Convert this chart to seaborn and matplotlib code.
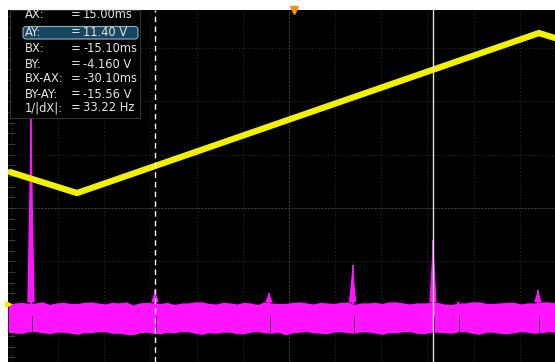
import matplotlib
matplotlib.use("Agg")
import matplotlib.pyplot as plt
import seaborn as sns
from matplotlib.ticker import MultipleLocator, NullFormatter
from matplotlib.patches import FancyBboxPatch, Polygon

# time in ms, amplitude in screen divisions
trace_t = [-30.8, -23.55, 26.47, 28.2]
trace_v = [0.675, 0.281, 3.283, 3.19]

noise_t = [-31.0, -30.2, -29.5, -28.7, -28.0, -27.3, -26.5, -25.8, -25.0, -24.2,
           -23.5, -22.8, -22.0, -21.3, -20.5, -19.8, -19.0, -18.2, -17.5, -16.8,
           -16.0, -15.3, -14.5, -13.8, -13.0, -12.2, -11.5, -10.8, -10.0, -9.3,
           -8.5, -7.8, -7.0, -6.2, -5.5, -4.8, -4.0, -3.3, -2.5, -1.8,
           -1.0, -0.2, 0.5, 1.3, 2.0, 2.8, 3.5, 4.2, 5.0, 5.8,
           6.5, 7.2, 8.0, 8.8, 9.5, 10.2, 11.0, 11.8, 12.5, 13.2,
           14.0, 14.8, 15.5, 16.2, 17.0, 17.8, 18.5, 19.2, 20.0, 20.8,
           21.5, 22.2, 23.0, 23.8, 24.5, 25.2, 26.0, 26.8, 27.5, 28.2]
noise_hi = [-1.80, -1.78, -1.77, -1.79, -1.78, -1.76, -1.81, -1.78, -1.77, -1.79,
            -1.79, -1.77, -1.76, -1.78, -1.80, -1.77, -1.78, -1.76, -1.82, -1.78,
            -1.77, -1.78, -1.79, -1.77, -1.81, -1.78, -1.78, -1.76, -1.76, -1.79,
            -1.80, -1.77, -1.78, -1.80, -1.77, -1.78, -1.81, -1.76, -1.78, -1.79,
            -1.79, -1.77, -1.76, -1.78, -1.80, -1.77, -1.78, -1.79, -1.77, -1.76,
            -1.81, -1.78, -1.78, -1.77, -1.79, -1.76, -1.76, -1.78, -1.80, -1.78,
            -1.78, -1.77, -1.77, -1.80, -1.81, -1.78, -1.78, -1.76, -1.76, -1.79,
            -1.79, -1.78, -1.77, -1.77, -1.80, -1.78, -1.78, -1.76, -1.76, -1.78]
noise_lo = [-2.33, -2.35, -2.35, -2.32, -2.32, -2.34, -2.36, -2.33, -2.33, -2.35,
            -2.37, -2.34, -2.34, -2.32, -2.32, -2.35, -2.35, -2.37, -2.38, -2.34,
            -2.33, -2.35, -2.36, -2.33, -2.34, -2.32, -2.32, -2.35, -2.37, -2.34,
            -2.35, -2.33, -2.33, -2.36, -2.36, -2.33, -2.32, -2.34, -2.35, -2.33,
            -2.38, -2.34, -2.33, -2.32, -2.34, -2.35, -2.36, -2.33, -2.32, -2.34,
            -2.35, -2.32, -2.33, -2.35, -2.37, -2.34, -2.34, -2.32, -2.32, -2.35,
            -2.36, -2.33, -2.33, -2.34, -2.35, -2.32, -2.32, -2.35, -2.37, -2.33,
            -2.33, -2.35, -2.36, -2.34, -2.32, -2.33, -2.35, -2.34, -2.32, -2.33]

spike_t = [-28.53, -15.1, -2.76, 6.3, 15.0, 17.7, 26.36]
spike_top = [2.03, -1.54, -1.59, -1.07, -0.6, -1.76, -1.54]

labels = ['AX:', 'AY:', 'BX:', 'BY:', 'BX-AX:', 'BY-AY:', '1/|dX|:']
values = ['15.00ms', '11.40 V', '-15.10ms', '-4.160 V', '-30.10ms', '-15.56 V', '33.22 Hz']
ax_cursor = 15.00
bx_cursor = -15.10

sns.set_theme(style='dark')
plt.rcParams['font.family'] = ['Liberation Sans Narrow', 'DejaVu Sans']

fig = plt.figure(figsize=(5.55, 3.62), dpi=100, facecolor='white')
ax = fig.add_axes([8/555, 0, 547/555, 352/362])
ax.set_facecolor('black')
ax.set_xlim(-31.02, 28.21)
ax.set_ylim(-2.889, 3.715)

# graticule
ax.xaxis.set_major_locator(MultipleLocator(5, offset=-0.6))
ax.xaxis.set_minor_locator(MultipleLocator(1, offset=-0.6))
ax.yaxis.set_major_locator(MultipleLocator(1))
ax.yaxis.set_minor_locator(MultipleLocator(0.2))
ax.xaxis.set_major_formatter(NullFormatter())
ax.yaxis.set_major_formatter(NullFormatter())
ax.grid(True, which='major', color='#2b2b2b', linestyle=(0, (1, 2)), linewidth=0.8)
for s in ['top', 'right']:
    ax.spines[s].set_visible(False)
ax.spines['left'].set_position(('data', -0.6))
ax.spines['bottom'].set_position(('data', 0))
for s in ['left', 'bottom']:
    ax.spines[s].set_color('#3a3a3a')
    ax.spines[s].set_linestyle((0, (1, 2)))
    ax.spines[s].set_linewidth(0.8)
ax.tick_params(which='both', direction='inout', colors='#444444', length=5, width=0.8)
ax.tick_params(which='minor', length=4)
ax.set_xlabel('')
ax.set_ylabel('')

edge = ax.secondary_yaxis('left')
edge.yaxis.set_major_locator(MultipleLocator(1))
edge.yaxis.set_minor_locator(MultipleLocator(0.2))
edge.yaxis.set_major_formatter(NullFormatter())
edge.spines['left'].set_visible(False)
edge.tick_params(which='both', direction='in', colors='#3a3a3a', length=5, width=0.8)

# channel 2 noise band and spikes
mag = '#ff14ff'
ax.fill_between(noise_t, noise_lo, noise_hi, color=mag, lw=0, zorder=3)
for t, top in zip(spike_t, spike_top):
    ax.add_patch(Polygon([(t - 0.4, -1.77), (t, top), (t + 0.4, -1.77)],
                         closed=True, color=mag, lw=0, zorder=3))
    ax.vlines(t, -1.80, top, color=mag, lw=1.3, zorder=3)
    ax.vlines(t + 0.1, -2.02, -2.33, color='black', lw=0.5, zorder=3)

# channel 1 trace
sns.lineplot(x=trace_t, y=trace_v, ax=ax, color='#f2f200', lw=4.5, zorder=4)

# cursors
ax.axvline(ax_cursor, color='#e0e0e0', lw=1.0, zorder=5)
ax.axvline(bx_cursor, color='#ffffff', lw=1.0, ls=(0, (4, 3)), zorder=5)

# markers
ax.plot([0], [3.715], marker='v', color='#ff8c1a', ms=6, clip_on=False, zorder=6)
ax.plot([-31.02], [-1.80], marker='>', color='#f2f200', ms=5, clip_on=False, zorder=6)

# readout box
rb = fig.add_axes([10/555, 244/362, 130/555, 108/362])
rb.set_facecolor('black')
rb.set_xticks([])
rb.set_yticks([])
for s in rb.spines.values():
    s.set_color('#333333')
    s.set_linewidth(0.8)
rb.set_xlim(0, 130)
rb.set_ylim(108, 0)
rb.add_patch(FancyBboxPatch((13, 16.5), 115, 12.5, boxstyle='round,pad=0,rounding_size=3',
                            facecolor='#174660', edgecolor='#8fb6cc', lw=0.8))
rows = [5, 22, 39, 54, 69, 84, 98]
for lab, val, y in zip(labels, values, rows):
    rb.text(15, y, lab, color='#e6e6e6', fontsize=8.3, va='center', ha='left')
    rb.text(61, y, '=', color='#e6e6e6', fontsize=8.3, va='center', ha='left')
    rb.text(73, y, val, color='#e6e6e6', fontsize=8.3, va='center', ha='left')

fig.savefig('out.png', dpi=100, facecolor='white')
